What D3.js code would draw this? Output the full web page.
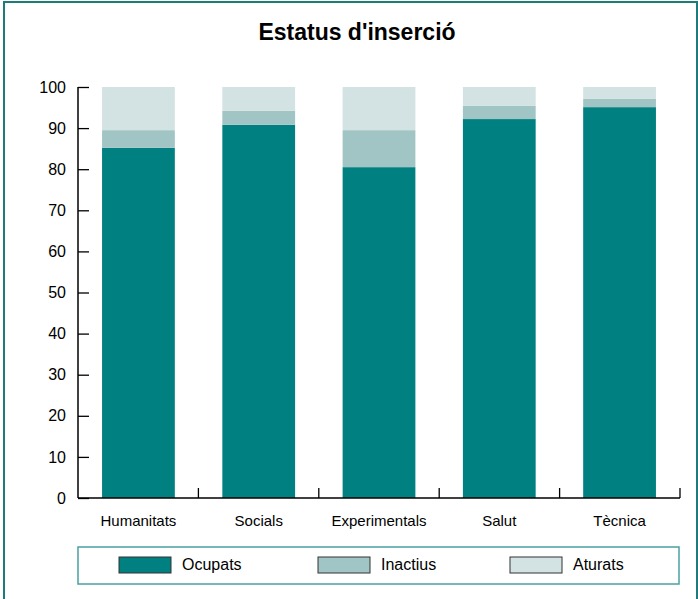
<!DOCTYPE html>
<html>
<head>
<meta charset="utf-8">
<script src="https://cdn.jsdelivr.net/npm/d3@7"></script>
<style>
  body { margin: 0; background: #fff; }
  svg { display: block; font-family: "Liberation Sans", Arial, sans-serif; }
</style>
</head>
<body>
<script>
const categories = ['Humanitats', 'Socials', 'Experimentals', 'Salut', 'Tècnica'];
const seriesNames = ['Ocupats', 'Inactius', 'Aturats'];
const ocupats = [85.2, 90.8, 80.5, 92.2, 95.1];
const inactius = [4.3, 3.4, 9.0, 3.2, 2.0];
const aturats = [10.5, 5.8, 10.5, 4.6, 2.9];
const yTicks = [0, 10, 20, 30, 40, 50, 60, 70, 80, 90, 100];

const colors = ['#008080', '#a1c4c4', '#d3e2e2'];

const width = 698, height = 599;
const svg = d3.select('body').append('svg')
  .attr('width', width)
  .attr('height', height);

// marc exterior
svg.append('rect')
  .attr('x', 4).attr('y', 2)
  .attr('width', 693).attr('height', 605)
  .attr('fill', 'none')
  .attr('stroke', '#1f7a7a')
  .attr('stroke-width', 2);

svg.append('text')
  .attr('x', 357).attr('y', 40)
  .attr('text-anchor', 'middle')
  .style('font-size', '23px')
  .style('font-weight', 'bold')
  .text("Estatus d'inserció");

const x0 = 78, x1 = 680, yTop = 87, yBot = 498;

const x = d3.scaleBand()
  .domain(categories)
  .range([x0, x1])
  .paddingInner(0.395)
  .paddingOuter(0.2);

const y = d3.scaleLinear()
  .domain([0, 100])
  .range([yBot, yTop]);

const table = categories.map((c, i) => ({
  cat: c, Ocupats: ocupats[i], Inactius: inactius[i], Aturats: aturats[i]
}));

const stacked = d3.stack().keys(seriesNames)(table);

svg.append('g')
  .selectAll('g')
  .data(stacked)
  .join('g')
  .attr('fill', (d, i) => colors[i])
  .selectAll('rect')
  .data(d => d)
  .join('rect')
  .attr('x', d => x(d.data.cat))
  .attr('y', d => y(Math.min(d[1], 100)))
  .attr('width', x.bandwidth())
  .attr('height', d => y(d[0]) - y(Math.min(d[1], 100)));

// eix Y
const yAxis = svg.append('g')
  .attr('transform', `translate(${x0},0)`)
  .call(d3.axisRight(y).tickValues(yTicks).tickSize(11).tickFormat(d => d));
yAxis.select('.domain').attr('d', `M0,${yTop}V${yBot}`);
yAxis.selectAll('line').attr('stroke', '#000').attr('stroke-width', 1.3);
yAxis.selectAll('.domain').attr('stroke', '#000').attr('stroke-width', 1.5);
yAxis.selectAll('text')
  .attr('x', -12)
  .attr('text-anchor', 'end')
  .style('font-size', '16px')
  .attr('fill', '#000');

// eix X
const step = x.step();
const sepTicks = categories.map((c, i) => x0 + (i + 1) * (x1 - x0) / categories.length);
const xAxis = svg.append('g');
xAxis.append('line')
  .attr('x1', x0).attr('x2', x1)
  .attr('y1', yBot).attr('y2', yBot)
  .attr('stroke', '#000').attr('stroke-width', 1.5);
xAxis.selectAll('.sep')
  .data(sepTicks)
  .join('line')
  .attr('x1', d => d).attr('x2', d => d)
  .attr('y1', yBot).attr('y2', yBot - 10)
  .attr('stroke', '#000').attr('stroke-width', 1.3);
xAxis.selectAll('.lbl')
  .data(categories)
  .join('text')
  .attr('x', d => x(d) + x.bandwidth() / 2)
  .attr('y', 526)
  .attr('text-anchor', 'middle')
  .style('font-size', '15px')
  .text(d => d);

// llegenda
const legend = svg.append('g');
legend.append('rect')
  .attr('x', 78).attr('y', 547)
  .attr('width', 601).attr('height', 37)
  .attr('fill', '#fff')
  .attr('stroke', '#4aa0a0')
  .attr('stroke-width', 1.5);

const legX = [119, 318, 510];
seriesNames.forEach((s, i) => {
  legend.append('rect')
    .attr('x', legX[i]).attr('y', 557)
    .attr('width', 52).attr('height', 16)
    .attr('fill', colors[i])
    .attr('stroke', '#333')
    .attr('stroke-width', 1);
  legend.append('text')
    .attr('x', legX[i] + 63).attr('y', 570)
    .style('font-size', '16px')
    .text(s);
});
</script>
</body>
</html>
